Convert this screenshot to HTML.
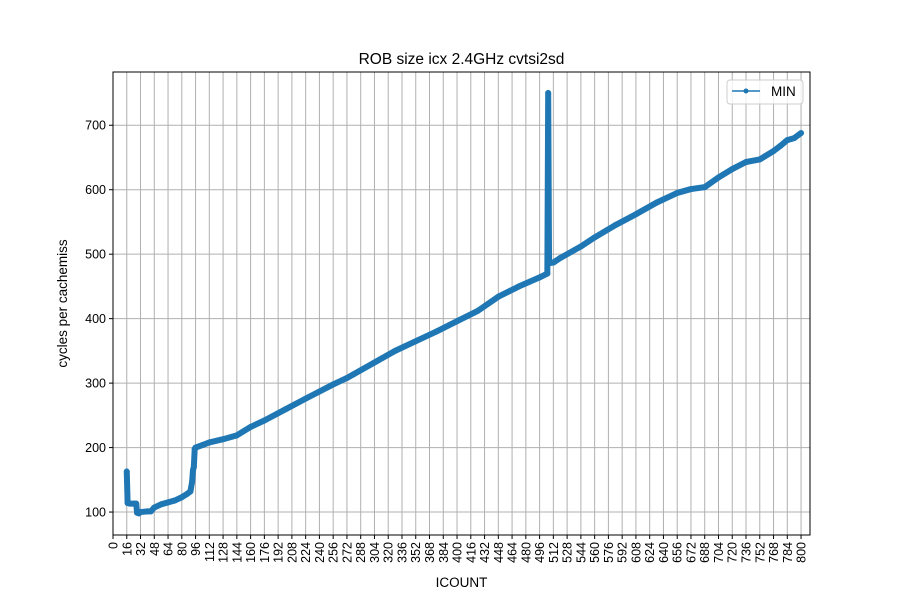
<!DOCTYPE html>
<html><head><meta charset="utf-8"><style>
body{margin:0;background:#fff}
svg text{font-family:"Liberation Sans","DejaVu Sans",sans-serif;fill:#000}
</style></head><body>
<svg id="c" width="900" height="600" viewBox="0 0 900 600"></svg>
<script>
const icount=[16,17,20,24,27,28,30,32,40,44,48,56,64,72,80,86,90,92,93,94,95,96,104,112,128,144,160,176,200,224,256,272,280,304,328,352,376,400,424,448,472,496,505,506,507,512,520,544,560,584,608,632,656,672,688,704,720,736,752,768,776,784,792,800];
const minVals=[163,114,113,113,113,99,98,100,101,101,107,112,115,118,123,128,132,147,165,170,198,200,204,208,213,219,232,242,259,276,298,308,314,332,350,365,380,396,412,434,450,464,470,750,486,487,494,512,526,545,562,580,595,601,604,619,632,643,647,660,668,677,680,688];
const xTicks=[];for(let t=0;t<=800;t+=16)xTicks.push(t);
const yTicks=[100,200,300,400,500,600,700];
const L=113,R=810,T=72,B=535,X0=0,X1=810.4,Y0=64.4,Y1=782.6;
const sx=v=>L+(v-X0)/(X1-X0)*(R-L), sy=v=>B-(v-Y0)/(Y1-Y0)*(B-T);
const svg=document.getElementById('c'),NS='http://www.w3.org/2000/svg';
function mk(tag,at,txt){const e=document.createElementNS(NS,tag);for(const k in at)e.setAttribute(k,at[k]);if(txt!=null)e.textContent=txt;svg.appendChild(e);return e;}
let e;
for(const t of xTicks){
 e=mk('line',{x1:sx(t),x2:sx(t),y1:T,y2:B,stroke:'#b0b0b0','stroke-width':1});
 
 
 e=mk('line',{x1:sx(t),x2:sx(t),y1:B,y2:B+4,stroke:'#000'});
 
 
 e=mk('text',{x:0,y:0,'font-size':12.5,'text-anchor':'end',transform:`translate(${sx(t)+4.5},${B+7}) rotate(-90)`},t);
 
 
}
for(const t of yTicks){
 e=mk('line',{x1:L,x2:R,y1:sy(t),y2:sy(t),stroke:'#b0b0b0','stroke-width':1});
 
 
 e=mk('line',{x1:L-4,x2:L,y1:sy(t),y2:sy(t),stroke:'#000'});
 
 
 e=mk('text',{x:L-7,y:sy(t)+4.5,'font-size':12.5,'text-anchor':'end'},t);
 
 
}
const pts=icount.map((v,i)=>sx(v)+','+sy(minVals[i])).join(' ');
e=mk('polyline',{points:pts,fill:'none',stroke:'#1f77b4','stroke-width':6,'stroke-linejoin':'round'});


e=mk('polyline',{points:pts,fill:'none',stroke:'#1f77b4','stroke-width':1.5});


icount.forEach((v,i)=>{
 const p=mk('circle',{cx:sx(v),cy:sy(minVals[i]),r:3,fill:'#1f77b4'});
 
 
});
e=mk('rect',{x:L,y:T,width:R-L,height:B-T,fill:'none',stroke:'#000','stroke-width':1});


e=mk('text',{x:(L+R)/2,y:64,'font-size':15.5,'text-anchor':'middle'},'ROB size icx 2.4GHz cvtsi2sd');


e=mk('text',{x:(L+R)/2,y:587,'font-size':13.5,'text-anchor':'middle'},'ICOUNT');


e=mk('text',{x:0,y:0,'font-size':13.5,'text-anchor':'middle',transform:`translate(67,${(T+B)/2}) rotate(-90)`},'cycles per cachemiss');


e=mk('rect',{x:727,y:80,width:76,height:24,rx:3,fill:'#fff','fill-opacity':0.8,stroke:'#ccc'});


e=mk('line',{x1:732,x2:760,y1:91,y2:91,stroke:'#1f77b4','stroke-width':1.5});


e=mk('circle',{cx:746,cy:91,r:2.5,fill:'#1f77b4'});


e=mk('text',{x:771,y:96,'font-size':13.5},'MIN');


</script>
</body></html>
